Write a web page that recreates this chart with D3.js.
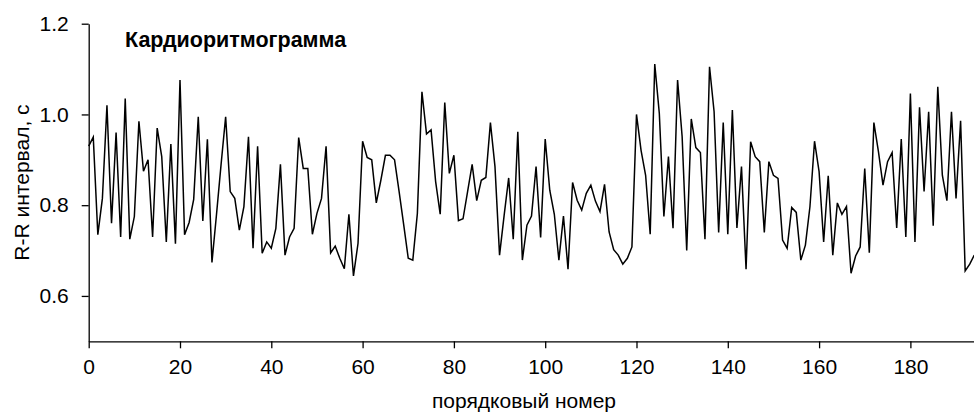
<!DOCTYPE html>
<html><head><meta charset="utf-8">
<script src="https://cdn.jsdelivr.net/npm/d3@7/dist/d3.min.js"></script>
<style>html,body{margin:0;padding:0;background:#fff;overflow:hidden}</style>
</head><body>
<svg id="c" width="974" height="419"></svg>
<script>
const titleText = "Кардиоритмограмма";
const yLabel = "R-R интервал, с";
const xLabel = "порядковый номер";
const xTicks = [0,20,40,60,80,100,120,140,160,180];
const yTicks = [0.6,0.8,1.0,1.2];
const rr = [
0.93,0.95,0.735,0.815,1.02,0.76,0.96,0.73,1.035,0.725,
0.775,0.985,0.875,0.90,0.73,0.97,0.907,0.719,0.935,0.715,
1.076,0.735,0.762,0.813,0.995,0.765,0.945,0.674,0.78,0.89,
0.995,0.83,0.815,0.745,0.797,0.951,0.705,0.93,0.694,0.719,
0.705,0.749,0.89,0.69,0.73,0.749,0.949,0.881,0.881,0.736,
0.782,0.815,0.93,0.695,0.71,0.683,0.66,0.78,0.644,0.716,
0.941,0.905,0.9,0.805,0.855,0.91,0.91,0.9,0.83,0.757,
0.683,0.679,0.782,1.05,0.957,0.966,0.852,0.78,1.026,0.87,
0.91,0.766,0.77,0.83,0.89,0.81,0.855,0.861,0.982,0.885,
0.69,0.777,0.86,0.725,0.962,0.679,0.756,0.776,0.885,0.729,
0.946,0.833,0.78,0.679,0.776,0.659,0.85,0.811,0.789,0.826,
0.844,0.809,0.786,0.846,0.741,0.702,0.69,0.67,0.683,0.708,
1.0,0.921,0.866,0.736,1.111,1.002,0.775,0.907,0.749,1.076,
0.951,0.7,0.99,0.927,0.916,0.725,1.105,1.006,0.74,0.982,
0.736,1.01,0.75,0.885,0.659,0.94,0.907,0.896,0.74,0.896,
0.866,0.859,0.723,0.705,0.795,0.784,0.679,0.712,0.797,0.941,
0.874,0.719,0.865,0.69,0.805,0.78,0.797,0.65,0.688,0.708,
0.881,0.695,0.982,0.918,0.844,0.896,0.916,0.75,0.946,0.73,
1.046,0.719,1.016,0.83,1.006,0.755,1.061,0.866,0.81,1.006,
0.815,0.986,0.655,0.67,0.69
];

const svg = d3.select("#c");
const L = 88.7, R = 974.3, T = 23.7, B = 341.3;
const x = d3.scaleLinear().domain([0, 194]).range([L, R]);
const y = d3.scaleLinear().domain([0.5, 1.2]).range([B, T]);
const font = "Liberation Sans, Arial, sans-serif";

svg.append("path")
  .datum(rr)
  .attr("fill","none")
  .attr("stroke","#000")
  .attr("stroke-width",1.5)
  .attr("stroke-linejoin","miter")
  .attr("d", d3.line().x((d,i)=>x(i)).y(d=>y(d)));

const gx = svg.append("g").attr("transform",`translate(0,${B})`)
  .call(d3.axisBottom(x).tickValues(xTicks).tickSize(7).tickPadding(11).tickFormat(d3.format("d")).tickSizeOuter(0));
const gy = svg.append("g").attr("transform",`translate(${L},0)`)
  .call(d3.axisLeft(y).tickValues(yTicks).tickSize(7).tickPadding(13).tickFormat(d3.format(".1f")).tickSizeOuter(0));
[gx,gy].forEach(g=>{
  g.selectAll("path.domain").attr("stroke","#000").attr("stroke-width",1.3);
  g.selectAll(".tick line").attr("stroke","#000").attr("stroke-width",1.3);
  g.selectAll(".tick text").attr("fill","#000").style("font-family",font).style("font-size","21px");
});

svg.append("text").attr("x",125).attr("y",47)
  .style("font-family",font).style("font-size","21.5px").style("font-weight","bold")
  .attr("fill","#000").text(titleText);

svg.append("text").attr("transform",`translate(29,${(T+B)/2}) rotate(-90)`)
  .attr("text-anchor","middle")
  .style("font-family",font).style("font-size","21px")
  .attr("fill","#000").text(yLabel);

svg.append("text").attr("x",524).attr("y",408).attr("text-anchor","middle")
  .style("font-family",font).style("font-size","21px")
  .attr("fill","#000").text(xLabel);
</script>
</body></html>
